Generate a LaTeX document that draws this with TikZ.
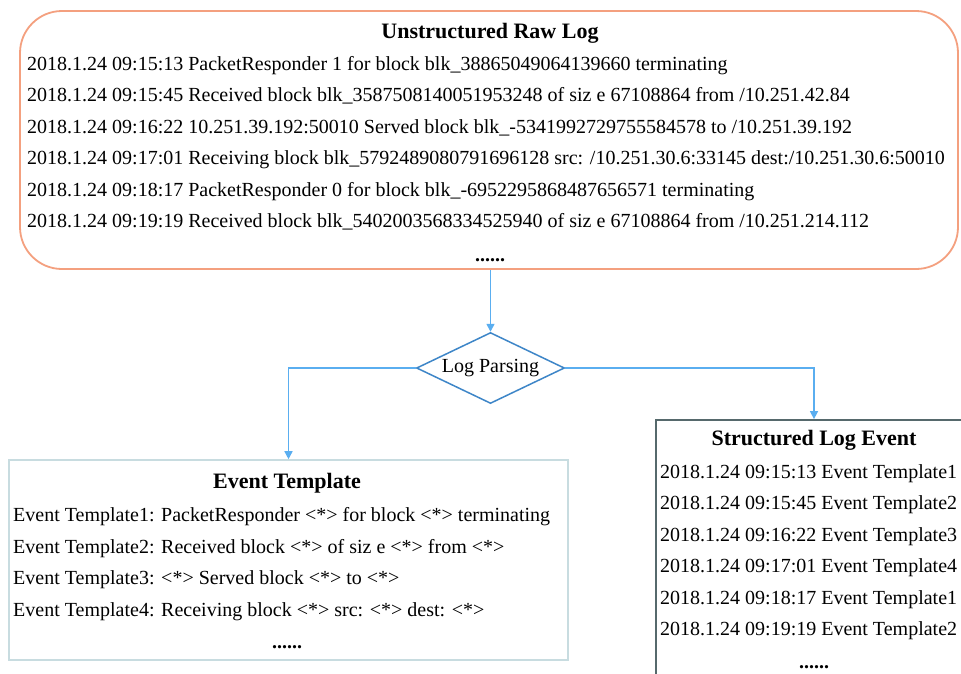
\documentclass[tikz,border=0pt]{standalone}
\usepackage{fontspec}
\setmainfont{Liberation Serif}
\usetikzlibrary{shapes.geometric,arrows.meta}
\definecolor{rawc}{HTML}{F4A07F}
\definecolor{arrc}{HTML}{5AAEF0}
\definecolor{diac}{HTML}{3E86C8}
\definecolor{evc}{HTML}{C8DCE0}
\definecolor{stc}{HTML}{56696C}
\begin{document}
\begin{tikzpicture}[x=1pt,y=-1pt,
  txt/.style={anchor=base west, inner sep=0pt, font=\fontsize{20}{24}\selectfont},
  dots/.style={anchor=base, inner sep=0pt, font=\fontsize{20}{24}\selectfont\bfseries},
  ttl/.style={anchor=base, inner sep=0pt, font=\fontsize{22}{26}\selectfont\bfseries},
  box/.style={draw, inner sep=0pt},
  arr/.style={draw=arrc, line width=1.5pt, -{Triangle[length=8pt,width=8pt]}},
]
\clip (0,0) rectangle (961,673);
\fill[white] (0,0) rectangle (961,673);
% boxes
\node[box, draw=rawc, line width=1.8pt, rounded corners=42pt, minimum width=938pt, minimum height=258pt] (raw) at (489,140) {};
\node[box, draw=diac, line width=1.5pt, shape=diamond, shape aspect=2.07, minimum width=148pt, minimum height=71pt, font=\fontsize{20}{24}\selectfont] (dia) at (490.5,368) {Log Parsing};
\node[box, draw=evc, line width=1.6pt, minimum width=559pt, minimum height=200pt] (ev) at (288.5,560) {};
\node[box, draw=stc, line width=1.8pt, minimum width=316pt, minimum height=280pt] (st) at (814,560) {};
% raw log text
\node[ttl] (rawt) at (490,38) {Unstructured Raw Log};
\node[txt] (r1) at (27,70) {2018.1.24 09:15:13 PacketResponder 1 for block blk\_38865049064139660 terminating};
\node[txt] (r2) at (27,101.5) {2018.1.24 09:15:45 Received block blk\_3587508140051953248 of siz e 67108864 from /10.251.42.84};
\node[txt] (r3) at (27,133) {2018.1.24 09:16:22 10.251.39.192:50010 Served block blk\_-5341992729755584578 to /10.251.39.192};
\node[txt] (r4) at (27,164.5) {2018.1.24 09:17:01 Receiving block blk\_5792489080791696128 src: /10.251.30.6:33145 dest:/10.251.30.6:50010};
\node[txt] (r5) at (27,196) {2018.1.24 09:18:17 PacketResponder 0 for block blk\_-6952295868487656571 terminating};
\node[txt] (r6) at (27,227) {2018.1.24 09:19:19 Received block blk\_5402003568334525940 of siz e 67108864 from /10.251.214.112};
\node[dots] (rd) at (490,261) {......};
% event template text
\node[ttl] (evt) at (287,488) {Event Template};
\node[txt] (e1) at (13,521.5) {Event Template1: PacketResponder <*> for block <*> terminating};
\node[txt] (e2) at (13,553) {Event Template2: Received block <*> of siz e <*> from <*>};
\node[txt] (e3) at (13,584.5) {Event Template3: <*> Served block <*> to <*>};
\node[txt] (e4) at (13,616.5) {Event Template4: Receiving block <*> src: <*> dest: <*>};
\node[dots] (ed) at (287,648) {......};
% structured text
\node[ttl] (stt) at (814,445) {Structured Log Event};
\node[txt] (s1) at (660,478) {2018.1.24 09:15:13 Event Template1};
\node[txt] (s2) at (660,509.5) {2018.1.24 09:15:45 Event Template2};
\node[txt] (s3) at (660,541) {2018.1.24 09:16:22 Event Template3};
\node[txt] (s4) at (660,572.5) {2018.1.24 09:17:01 Event Template4};
\node[txt] (s5) at (660,604) {2018.1.24 09:18:17 Event Template1};
\node[txt] (s6) at (660,635) {2018.1.24 09:19:19 Event Template2};
\node[dots] (sd) at (814,668) {......};
% connectors
\draw[arr] (raw.south -| dia.north) -- (dia.north);
\draw[arr] (dia.west) -| (ev.north);
\draw[arr] (dia.east) -| (st.north);
\end{tikzpicture}
\end{document}
